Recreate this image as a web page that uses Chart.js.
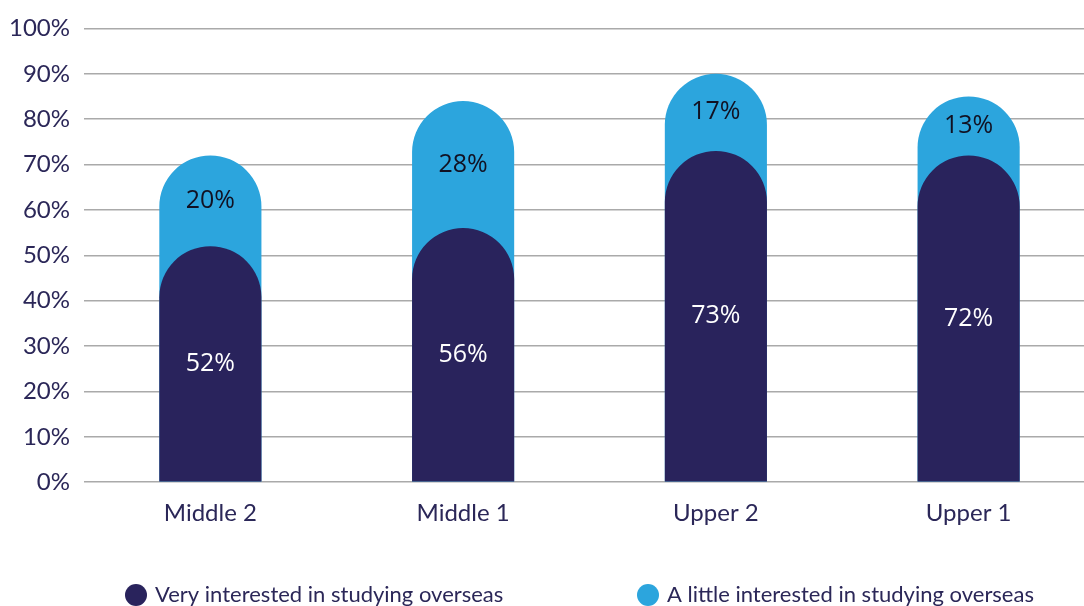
<!DOCTYPE html>
<html>
<head>
<meta charset="utf-8">
<script src="https://cdn.jsdelivr.net/npm/chart.js@4"></script>
<style>
html,body{margin:0;padding:0;background:#fff;overflow:hidden;}
#wrap{width:1084px;height:606px;position:relative;overflow:hidden;}
</style>
</head>
<body>
<div id="wrap"><canvas id="c" width="1095" height="606"></canvas></div>
<script>
const categories = ["Middle 2", "Middle 1", "Upper 2", "Upper 1"];
const veryInterested = [52, 56, 73, 72];
const littleInterested = [20, 28, 17, 13];
const seriesNames = ["Very interested in studying overseas", "A little interested in studying overseas"];
const yTicks = [0, 10, 20, 30, 40, 50, 60, 70, 80, 90, 100];

const DARK = "#29235c";
const LIGHT = "#2ca5dd";
const TEXT = "#2b2758";
const FONT = "Lato";

const labelPlugin = {
  id: "barLabels",
  afterDatasetsDraw(chart) {
    const ctx = chart.ctx;
    const darkMeta = chart.getDatasetMeta(0);
    const lightMeta = chart.getDatasetMeta(1);
    ctx.save();
    ctx.textAlign = "center";
    ctx.textBaseline = "middle";
    ctx.font = "25px 'Open Sans'";
    darkMeta.data.forEach((bar, i) => {
      ctx.fillStyle = "#ffffff";
      ctx.fillText(veryInterested[i] + "%", bar.x, (bar.y + bar.base) / 2);
      const lb = lightMeta.data[i];
      ctx.fillStyle = "#111122";
      ctx.fillText(littleInterested[i] + "%", lb.x, (lb.y + bar.y) / 2);
    });
    ctx.restore();
  }
};

const legendPlugin = {
  id: "customLegend",
  afterDraw(chart) {
    const ctx = chart.ctx;
    const area = chart.chartArea;
    const y = 595;
    const starts = [area.left + 41, area.left + 553];
    const colors = [DARK, LIGHT];
    ctx.save();
    ctx.font = "22px " + FONT;
    ctx.textBaseline = "middle";
    ctx.textAlign = "left";
    seriesNames.forEach((name, i) => {
      ctx.beginPath();
      ctx.fillStyle = colors[i];
      ctx.arc(starts[i] + 11, y, 11, 0, Math.PI * 2);
      ctx.fill();
      ctx.fillStyle = TEXT;
      ctx.fillText(name, starts[i] + 30, y);
    });
    ctx.restore();
  }
};

new Chart(document.getElementById("c"), {
  type: "bar",
  data: {
    labels: categories,
    datasets: [
      {
        label: seriesNames[0],
        data: veryInterested,
        backgroundColor: DARK,
        borderRadius: {topLeft: 60, topRight: 60, bottomLeft: 0, bottomRight: 0},
        borderSkipped: "bottom",
        barPercentage: 0.404,
        categoryPercentage: 1
      },
      {
        label: seriesNames[1],
        data: veryInterested.map((v, i) => [0, v + littleInterested[i]]),
        backgroundColor: LIGHT,
        borderRadius: {topLeft: 60, topRight: 60, bottomLeft: 0, bottomRight: 0},
        borderSkipped: "bottom",
        barPercentage: 0.404,
        categoryPercentage: 1
      }
    ]
  },
  options: {
    responsive: false,
    animation: false,
    layout: {padding: {top: 26, left: 0, right: 0, bottom: 61}},
    plugins: {legend: {display: false}, tooltip: {enabled: false}},
    scales: {
      x: {
        stacked: true,
        grid: {display: false, drawTicks: false},
        border: {display: false},
        ticks: {color: TEXT, font: {family: FONT, size: 24}, padding: 17}
      },
      y: {
        stacked: false,
        min: 0, max: 100,
        afterBuildTicks: (s) => { s.ticks = yTicks.map(v => ({value: v})); },
        afterFit: (s) => { s.width = 84; },
        grid: {color: "#aaaaaa", lineWidth: 1.5, drawTicks: false},
        border: {display: false},
        ticks: {color: TEXT, font: {family: FONT, size: 24}, padding: 14, callback: v => v + "%"}
      }
    }
  },
  plugins: [labelPlugin, legendPlugin]
});
</script>
</body>
</html>
